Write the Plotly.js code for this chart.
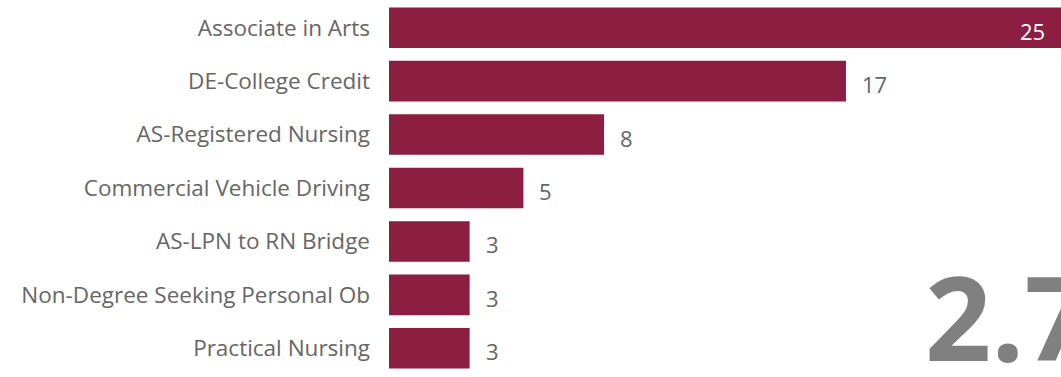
<!DOCTYPE html>
<html>
<head>
<meta charset="utf-8">
<script src="https://cdn.plot.ly/plotly-3.0.1.min.js"></script>
<style>html,body{margin:0;padding:0;background:#fff;}#chart{width:1061px;height:377px;}</style>
</head>
<body>
<div id="chart"></div>
<script>
const programs = ["Associate in Arts", "DE-College Credit", "AS-Registered Nursing", "Commercial Vehicle Driving", "AS-LPN to RN Bridge", "Non-Degree Seeking Personal Ob", "Practical Nursing"];
const counts = [25, 17, 8, 5, 3, 3, 3];
const kpiValue = "2.7";

const barColor = "#8B1E41";
const maxVal = Math.max(...counts);

const annotations = programs.map((p, i) => {
  const inside = counts[i] === maxVal;
  return {
    x: counts[i], y: p, xref: "x", yref: "y",
    text: String(counts[i]), showarrow: false,
    xanchor: inside ? "right" : "left",
    xshift: inside ? -14 : 14, yshift: -3,
    font: {family: "Open Sans, sans-serif", size: 22, color: inside ? "#ffffff" : "#666666"}
  };
});
annotations.push({
  xref: "paper", yref: "paper", x: 0.795, y: 0.0, xanchor: "left", yanchor: "bottom",
  yshift: -22,
  text: kpiValue, showarrow: false,
  font: {family: "Open Sans, sans-serif", size: 116, color: "#808080", weight: 700}
});

const data = [{
  type: "bar", orientation: "h",
  x: counts, y: programs,
  marker: {color: barColor},
  hoverinfo: "none"
}];

const layout = {
  width: 1061, height: 377,
  margin: {l: 389, r: 0, t: 1, b: 2, pad: 0},
  paper_bgcolor: "#fff", plot_bgcolor: "#fff",
  bargap: 0.24,
  showlegend: false,
  xaxis: {range: [0, maxVal], visible: false, fixedrange: true},
  yaxis: {autorange: "reversed", showgrid: false, zeroline: false, showline: false, ticks: "",
          ticklabelstandoff: 18,
          tickfont: {family: "Open Sans, sans-serif", size: 22.5, color: "#666666"}},
  annotations: annotations
};
Plotly.newPlot("chart", data, layout, {displayModeBar: false, staticPlot: true});
</script>
</body>
</html>
